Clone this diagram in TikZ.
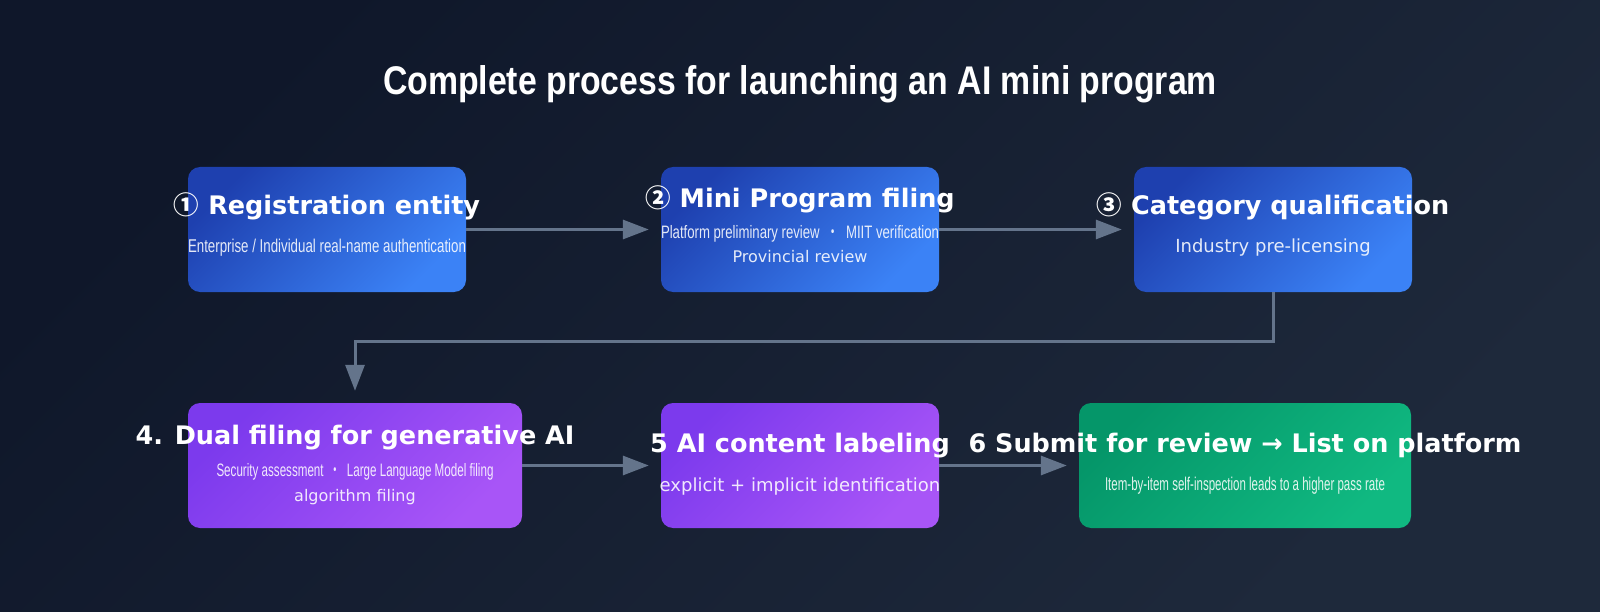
\documentclass[tikz,border=0pt]{standalone}
\usepackage{fontspec}
\usepackage{graphicx}
\setmainfont{DejaVu Sans}
\newfontfamily\narrowFont{Liberation Sans}
\newfontfamily\cjkFont{Noto Sans CJK JP}
\usetikzlibrary{arrows.meta,positioning}
\definecolor{flowBgA}{HTML}{0F172A}
\definecolor{flowBgB}{HTML}{1E293B}
\definecolor{flowBlueA}{HTML}{1E40AF}
\definecolor{flowBlueB}{HTML}{3B82F6}
\definecolor{flowPurpleA}{HTML}{7C3AED}
\definecolor{flowPurpleB}{HTML}{A855F7}
\definecolor{flowGreenA}{HTML}{059669}
\definecolor{flowGreenB}{HTML}{10B981}
\definecolor{flowLine}{HTML}{64748B}
\newcommand{\squeezeTo}[2]{\resizebox{#1pt}{\height}{#2}}
\newcommand{\midDot}{\enspace{\cjkFont ・}\enspace}
\newcommand{\stepNo}[1]{{\cjkFont\bfseries #1}}
\tikzset{
    flowStepBase/.style={
        rectangle,
        rounded corners=12pt,
        minimum height=125pt,
        minimum width=278pt,
        inner sep=0pt
    },
    % Step colours
    blueStep/.style={flowStepBase, top color=flowBlueA, bottom color=flowBlueB, shading angle=45},
    purpleStep/.style={flowStepBase, top color=flowPurpleA, bottom color=flowPurpleB, shading angle=45},
    greenStep/.style={flowStepBase, top color=flowGreenA, bottom color=flowGreenB, shading angle=45},
    % Texts
    flowTitle/.style={font=\narrowFont\bfseries\fontsize{40}{48}\selectfont, text=white, anchor=base, inner sep=0pt},
    flowHead/.style={font=\bfseries\fontsize{25.5}{30}\selectfont, text=white, anchor=base, inner sep=0pt},
    flowSub/.style={font=\fontsize{18}{22}\selectfont, text=white, text opacity=0.88, anchor=base, inner sep=0pt},
    flowSubSmall/.style={flowSub, font=\fontsize{16}{20}\selectfont},
    flowSubNarrow/.style={flowSub, font=\narrowFont\fontsize{18.5}{22}\selectfont},
    % Arrows
    flowArrow/.style={-{Triangle[length=26pt,width=19pt]}, line width=3pt, draw=flowLine, shorten >=12pt}
}

\begin{document}
\begin{tikzpicture}[x=1pt, y=-1pt]
    \shade[top color=flowBgA, bottom color=flowBgB, shading angle=45] (0,0) rectangle (1600,612);

    \node[flowTitle] (title) at (800,95) {\squeezeTo{834}{Complete process for launching an AI mini program}};

    % Steps
    \node[blueStep] (entity) at (327,229.5) {};
    \node[blueStep] (filing) at (800,229.5) {};
    \node[blueStep] (category) at (1273,229.5) {};
    \node[purpleStep, minimum width=334pt] (dual) at (355,465.5) {};
    \node[purpleStep] (labeling) at (800,465.5) {};
    \node[greenStep, minimum width=332pt] (submit) at (1245,465.5) {};

    \draw[flowArrow] (entity) -- (filing);
    \draw[flowArrow] (filing) -- (category);
    \draw[flowArrow] (category.south) -- ++(0,49) -| (dual.north);
    \draw[flowArrow] (dual) -- (labeling);
    \draw[flowArrow] (labeling) -- (submit);

    \node[flowHead] (entityHead) at ([yshift=14.5pt]entity.center) {\stepNo{①} Registration entity};
    \node[flowSubNarrow] (entitySub) at ([yshift=-23.5pt]entity.center) {\squeezeTo{278}{Enterprise / Individual real-name authentication}};

    \node[flowHead] (filingHead) at ([yshift=21.5pt]filing.center) {\stepNo{②} Mini Program filing};
    \node[flowSubNarrow, font=\narrowFont\fontsize{18}{22}\selectfont] (filingSubA) at ([yshift=-9.5pt]filing.center) {\squeezeTo{278}{Platform preliminary review\midDot MIIT verification}};
    \node[flowSubSmall] (filingSubB) at ([yshift=-33.5pt]filing.center) {Provincial review};

    \node[flowHead] (categoryHead) at ([yshift=14.5pt]category.center) {\stepNo{③} Category qualification};
    \node[flowSub] (categorySub) at ([yshift=-23.5pt]category.center) {Industry pre-licensing};

    \node[flowHead] (dualHead) at ([yshift=21.5pt]dual.center) {4. Dual filing for generative AI};
    \node[flowSubNarrow, font=\narrowFont\fontsize{18}{22}\selectfont] (dualSubA) at ([yshift=-10.5pt]dual.center) {\squeezeTo{277}{Security assessment\midDot Large Language Model filing}};
    \node[flowSubSmall] (dualSubB) at ([yshift=-35.5pt]dual.center) {algorithm filing};

    \node[flowHead] (labelingHead) at ([yshift=13.5pt]labeling.center) {5 AI content labeling};
    \node[flowSub] (labelingSub) at ([yshift=-25.5pt]labeling.center) {explicit + implicit identification};

    \node[flowHead] (submitHead) at ([yshift=13.5pt]submit.center) {6 Submit for review → List on platform};
    \node[flowSubNarrow] (submitSub) at ([yshift=-24.5pt]submit.center) {\squeezeTo{280}{Item-by-item self-inspection leads to a higher pass rate}};
\end{tikzpicture}
\end{document}
